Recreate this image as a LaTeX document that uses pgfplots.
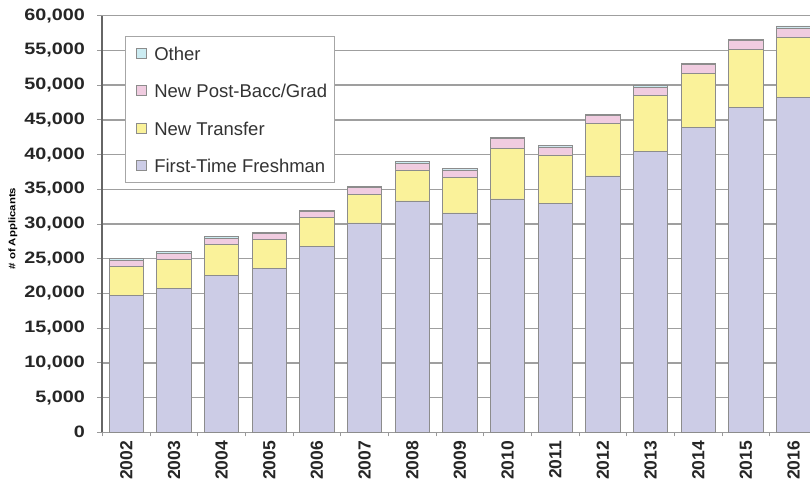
\documentclass[border=0pt]{standalone}
\usepackage{pgfplots}
\pgfplotsset{compat=1.18}
\usepackage{fontspec}
\setmainfont{Liberation Sans}
\newfontfamily\wideb[FakeStretch=1.2]{Liberation Sans}
\definecolor{fresh}{HTML}{CCCCE6}
\definecolor{trans}{HTML}{FAF29A}
\definecolor{postb}{HTML}{F0CCE0}
\definecolor{other}{HTML}{CCECF2}
\definecolor{edge}{HTML}{8C8C8C}
\pgfplotsset{sqleg/.style={legend image code/.code={\path (0pt,0pt); \draw[##1] (3pt,-5pt) rectangle (13pt,5pt);}}}
\begin{document}
\begin{tikzpicture}
\begin{axis}[
  at={(0,0)}, anchor=south west,
  scale only axis, width=707.5pt, height=416.6pt,
  xmin=-0.5, xmax=14.345, ymin=0, ymax=60000,
  ybar stacked, bar width=34.3pt,
  axis x line=bottom, axis y line=left, axis line style={-},
  x axis line style={draw=gray!80, line width=1.2pt},
  y axis line style={draw=black!60, line width=2pt},
  xtick={0,...,14},
  xticklabels={2002,2003,2004,2005,2006,2007,2008,2009,2010,2011,2012,2013,2014,2015,2016},
  minor xtick={-0.5,0.5,...,14.5},
  major x tick style={draw=none},
  minor x tick style={draw=gray!80, line width=1pt},
  minor tick length=4pt,
  ytick={0,5000,...,60000},
  y tick style={draw=gray!80, line width=1pt},
  major tick length=5pt,
  tick align=outside,
  scaled y ticks=false,
  /pgf/number format/assume math mode=true,
  yticklabel style={/pgf/number format/1000 sep={,}, font=\wideb\bfseries\fontsize{16.5}{18}\selectfont, color=black!85, xshift=-9pt},
  xticklabel style={rotate=90, anchor=east, font=\bfseries\fontsize{17.5}{19}\selectfont, color=black!85},
  ymajorgrids,
  major grid style={draw=gray!75, line width=1.3pt},
  ylabel={\# of Applicants},
  ylabel style={at={(axis description cs:-0.1265,0.489)}, anchor=center, font=\wideb\bfseries\fontsize{9.5}{11}\selectfont},
  legend cell align=left,
  reverse legend,
  legend style={at={(axis description cs:0.032,0.951)}, anchor=north west,
    draw=gray!70, line width=0.8pt, font=\fontsize{18.5}{22}\selectfont,
    inner xsep=7.4pt, inner ysep=8.7pt, row sep=20.9pt,
    nodes={inner sep=0pt, text height=15pt, text depth=1.5pt, text=black!80},
    /tikz/every odd column/.style={column sep=7.6pt}},
  every axis plot/.append style={draw=edge, line width=0.8pt},
]
\addplot[fill=fresh, sqleg] coordinates {(0,19710) (1,20770) (2,22600) (3,23650) (4,26780) (5,30150) (6,33320) (7,31590) (8,33610) (9,32980) (10,36920) (11,40430) (12,43850) (13,46830) (14,48220)};
\addplot[fill=trans, sqleg] coordinates {(0,4230) (1,4130) (2,4470) (3,4090) (4,4130) (5,4130) (6,4470) (7,5140) (8,7310) (9,6970) (10,7550) (11,8080) (12,7890) (13,8370) (14,8710)};
\addplot[fill=postb, sqleg] coordinates {(0,860) (1,870) (2,910) (3,860) (4,870) (5,960) (6,960) (7,1060) (8,1390) (9,1150) (10,1150) (11,1200) (12,1240) (13,1200) (14,1300)};
\addplot[fill=other, sqleg] coordinates {(0,200) (1,290) (2,240) (3,200) (4,190) (5,200) (6,240) (7,190) (8,190) (9,240) (10,200) (11,240) (12,190) (13,240) (14,290)};
\legend{First-Time Freshman, New Transfer, New Post-Bacc/Grad, Other}
\end{axis}
\pgfresetboundingbox
\path[use as bounding box] (-102.5pt,-48.7pt) rectangle (707.5pt,432.3pt);
\end{tikzpicture}
\end{document}
